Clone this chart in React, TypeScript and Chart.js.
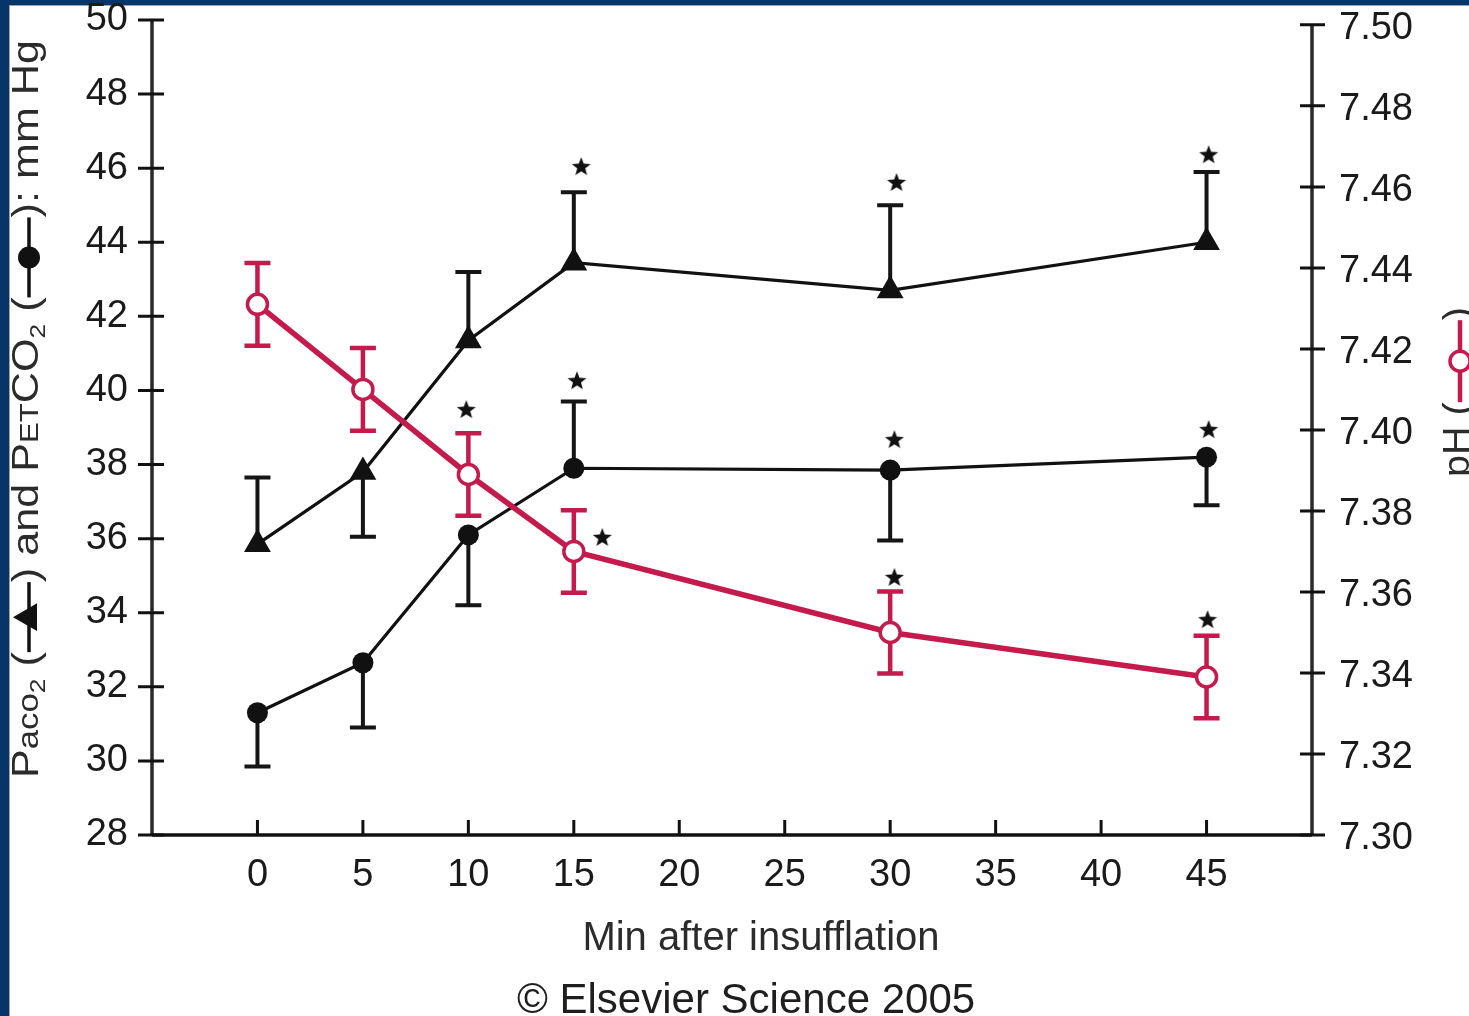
import React, { useEffect, useRef } from "react";
import { Chart, registerables } from "chart.js";

Chart.register(...registerables);

const FONT = "'Liberation Sans', Arial, Helvetica, sans-serif";
const RED = "#c41a4c";
const NAVY = "#06356a";
const INK = "#111111";
const TEXT = "#2b2b2b";

// ---- data ----
const minutes = [0, 5, 10, 15, 30, 45];
const paco2 = [35.85, 37.8, 41.35, 43.45, 42.7, 44.0];
const paco2ErrEnd = [37.65, 36.05, 43.2, 45.35, 45.0, 45.9];
const petco2 = [31.3, 32.65, 36.1, 37.9, 37.85, 38.2];
const petco2ErrEnd = [29.85, 30.9, 34.2, 39.7, 35.95, 36.9];
const ph = [7.431, 7.41, 7.389, 7.37, 7.35, 7.339];
const phSd = [0.0102, 0.0102, 0.0102, 0.0102, 0.0101, 0.0102];
const asteriskMin = [9.9, 15.15, 15.35, 16.35, 30.2, 30.2, 30.3, 45.1, 45.1, 45.05];
const asteriskLevel = [39.47, 40.25, 46.03, 36.02, 34.94, 38.66, 45.6, 46.35, 38.93, 33.8];
const xTickValues = [0, 5, 10, 15, 20, 25, 30, 35, 40, 45];
const leftTickValues = [28, 30, 32, 34, 36, 38, 40, 42, 44, 46, 48, 50];
const rightTickValues = [7.3, 7.32, 7.34, 7.36, 7.38, 7.4, 7.42, 7.44, 7.46, 7.48, 7.5];
const xTitle = "Min after insufflation";
const credit = "\u00a9 Elsevier Science 2005";

function makeAsterisk(): HTMLCanvasElement {
  const c = document.createElement("canvas");
  c.width = 24;
  c.height = 24;
  const g = c.getContext("2d")!;
  g.beginPath();
  for (let i = 0; i < 10; i++) {
    const r = i % 2 === 0 ? 10 : 4.2;
    const a = -Math.PI / 2 + (i * Math.PI) / 5;
    g.lineTo(12 + r * Math.cos(a), 12 + r * Math.sin(a));
  }
  g.closePath();
  g.fillStyle = INK;
  g.fill();
  return c;
}

type Seg = { t?: string; s?: number; dy?: number; sym?: "tri" | "dot" | "ring"; len?: number };

function drawSymbol(ctx: CanvasRenderingContext2D, kind: string, x0: number, len: number, y: number) {
  const color = kind === "ring" ? RED : INK;
  ctx.save();
  ctx.strokeStyle = color;
  ctx.lineWidth = kind === "ring" ? 4.5 : 3.5;
  ctx.beginPath();
  ctx.moveTo(x0, y);
  ctx.lineTo(x0 + len, y);
  ctx.stroke();
  const cx = x0 + len / 2;
  if (kind === "tri") {
    const r = 16;
    ctx.fillStyle = INK;
    ctx.beginPath();
    ctx.moveTo(cx, y - r);
    ctx.lineTo(cx + r * 0.866, y + r / 2);
    ctx.lineTo(cx - r * 0.866, y + r / 2);
    ctx.closePath();
    ctx.fill();
  } else if (kind === "dot") {
    ctx.fillStyle = INK;
    ctx.beginPath();
    ctx.arc(cx, y, 11, 0, Math.PI * 2);
    ctx.fill();
  } else {
    ctx.fillStyle = "#ffffff";
    ctx.lineWidth = 3.5;
    ctx.beginPath();
    ctx.arc(cx, y, 10, 0, Math.PI * 2);
    ctx.fill();
    ctx.stroke();
  }
  ctx.restore();
}

function drawRotatedRun(
  ctx: CanvasRenderingContext2D,
  segs: Seg[],
  baseX: number,
  centerY: number,
  target: number | null,
  kFixed: number
) {
  let textNat = 0;
  let symTotal = 0;
  const nat = segs.map((sg) => {
    if (sg.sym) {
      symTotal += sg.len || 0;
      return sg.len || 0;
    }
    ctx.font = `${sg.s}px ${FONT}`;
    const w = ctx.measureText(sg.t || "").width;
    textNat += w;
    return w;
  });
  const k = target ? (target - symTotal) / textNat : kFixed;
  const widths = segs.map((sg, i) => (sg.sym ? nat[i] : nat[i] * k));
  const total = widths.reduce((a, b) => a + b, 0);
  ctx.save();
  ctx.translate(baseX, centerY);
  ctx.rotate(-Math.PI / 2);
  ctx.fillStyle = TEXT;
  ctx.textBaseline = "alphabetic";
  ctx.textAlign = "left";
  let x = -total / 2;
  segs.forEach((sg, i) => {
    if (sg.sym) {
      drawSymbol(ctx, sg.sym, x, sg.len || 0, -9);
    } else {
      ctx.save();
      ctx.translate(x, sg.dy || 0);
      ctx.scale(k, 1);
      ctx.font = `${sg.s}px ${FONT}`;
      ctx.fillText(sg.t || "", 0, 0);
      ctx.restore();
    }
    x += widths[i];
  });
  ctx.restore();
}

const framePlugin = {
  id: "frame",
  beforeDraw(chart: any) {
    const { ctx, width, height } = chart;
    ctx.save();
    ctx.fillStyle = "#ffffff";
    ctx.fillRect(0, 0, width, height);
    ctx.fillStyle = NAVY;
    ctx.fillRect(0, 0, width, 5);
    ctx.fillRect(0, 0, 9, height);
    ctx.fillStyle = "#9aa3ad";
    ctx.fillRect(9, 5, 1, height - 5);
    ctx.fillRect(9, 5, width - 9, 1);
    ctx.restore();
  },
};

const axesPlugin = {
  id: "axisLines",
  beforeDatasetsDraw(chart: any) {
    const { ctx, chartArea } = chart;
    const x = chart.scales.x;
    const yL = chart.scales.yL;
    const yR = chart.scales.yR;
    const bottom = yL.getPixelForValue(leftTickValues[0]);
    ctx.save();
    ctx.strokeStyle = "#2a2a2a";
    ctx.lineWidth = 3.5;
    ctx.beginPath();
    ctx.moveTo(chartArea.left, yL.getPixelForValue(leftTickValues[leftTickValues.length - 1]));
    ctx.lineTo(chartArea.left, bottom);
    ctx.moveTo(chartArea.right, yR.getPixelForValue(rightTickValues[rightTickValues.length - 1]));
    ctx.lineTo(chartArea.right, yR.getPixelForValue(rightTickValues[0]));
    ctx.stroke();
    ctx.strokeStyle = INK;
    ctx.lineWidth = 3.5;
    ctx.beginPath();
    ctx.moveTo(chartArea.left, bottom);
    ctx.lineTo(chartArea.right, bottom);
    ctx.stroke();
    ctx.lineWidth = 3;
    ctx.beginPath();
    xTickValues.forEach((v) => {
      const px = x.getPixelForValue(v);
      ctx.moveTo(px, bottom);
      ctx.lineTo(px, bottom - 15);
    });
    leftTickValues.forEach((v) => {
      const py = yL.getPixelForValue(v);
      ctx.moveTo(chartArea.left - 14, py);
      ctx.lineTo(chartArea.left + 12, py);
    });
    rightTickValues.forEach((v) => {
      const py = yR.getPixelForValue(v);
      ctx.moveTo(chartArea.right - 12, py);
      ctx.lineTo(chartArea.right + 13, py);
    });
    ctx.stroke();
    ctx.restore();
  },
};

const errorBarPlugin = {
  id: "errorBars",
  beforeDatasetsDraw(chart: any) {
    const { ctx } = chart;
    const x = chart.scales.x;
    const yL = chart.scales.yL;
    const yR = chart.scales.yR;
    const bar = (px: number, y0: number, y1: number, color: string, lw: number, capBoth: boolean) => {
      ctx.strokeStyle = color;
      ctx.lineWidth = lw;
      ctx.beginPath();
      ctx.moveTo(px, y0);
      ctx.lineTo(px, y1);
      ctx.moveTo(px - 13, y1);
      ctx.lineTo(px + 13, y1);
      if (capBoth) {
        ctx.moveTo(px - 13, y0);
        ctx.lineTo(px + 13, y0);
      }
      ctx.stroke();
    };
    ctx.save();
    minutes.forEach((m, i) => {
      const px = x.getPixelForValue(m);
      bar(px, yL.getPixelForValue(paco2[i]), yL.getPixelForValue(paco2ErrEnd[i]), "#151515", 4, false);
      bar(px, yL.getPixelForValue(petco2[i]), yL.getPixelForValue(petco2ErrEnd[i]), "#151515", 4, false);
      bar(px, yR.getPixelForValue(ph[i] - phSd[i]), yR.getPixelForValue(ph[i] + phSd[i]), RED, 4.5, true);
    });
    ctx.restore();
  },
};

const titlePlugin = {
  id: "titles",
  afterDraw(chart: any) {
    const { ctx } = chart;
    const leftSegs: Seg[] = [
      { t: "P", s: 36 },
      { t: "aco", s: 29 },
      { t: "2", s: 22, dy: 7 },
      { t: " (", s: 36 },
      { sym: "tri", len: 70 },
      { t: ") and P", s: 36 },
      { t: "ET", s: 26 },
      { t: "CO", s: 36 },
      { t: "2", s: 22, dy: 7 },
      { t: " (", s: 36 },
      { sym: "dot", len: 80 },
      { t: "): mm Hg", s: 36 },
    ];
    drawRotatedRun(ctx, leftSegs, 38, 409, 738, 1);
    const rightSegs: Seg[] = [
      { t: "pH (", s: 36 },
      { sym: "ring", len: 82 },
      { t: ")", s: 36 },
    ];
    drawRotatedRun(ctx, rightSegs, 1469, 392, null, 1.1);

    ctx.save();
    ctx.fillStyle = TEXT;
    ctx.textAlign = "center";
    ctx.textBaseline = "alphabetic";
    ctx.font = `40px ${FONT}`;
    ctx.fillText(xTitle, 761, 950);
    ctx.fillStyle = "#1e1e1e";
    ctx.font = `42px ${FONT}`;
    ctx.fillText(credit, 746, 1013);
    ctx.restore();
  },
};

const zeroPad = (s: any) => {
  s.paddingTop = 0;
  s.paddingBottom = 0;
  s.paddingLeft = 0;
  s.paddingRight = 0;
};

export default function App() {
  const ref = useRef<HTMLCanvasElement>(null);
  useEffect(() => {
    const canvas = ref.current;
    if (!canvas) return;
    const star = makeAsterisk();
    const tickFont = { family: FONT, size: 38 };
    const chart = new Chart(canvas, {
      type: "line",
      data: {
        datasets: [
          {
            label: "pH",
            data: minutes.map((m, i) => ({ x: m, y: ph[i] })),
            yAxisID: "yR",
            borderColor: RED,
            borderWidth: 5.5,
            tension: 0,
            pointStyle: "circle",
            pointRadius: 10,
            pointBorderWidth: 3.5,
            pointBackgroundColor: "#ffffff",
            pointBorderColor: RED,
          },
          {
            label: "significance",
            type: "scatter",
            data: asteriskMin.map((m, i) => ({ x: m, y: asteriskLevel[i] })),
            yAxisID: "yL",
            showLine: false,
            pointStyle: star as any,
            pointRadius: 10,
          },
          {
            label: "PaCO2",
            data: minutes.map((m, i) => ({ x: m, y: paco2[i] })),
            yAxisID: "yL",
            borderColor: INK,
            borderWidth: 3.2,
            tension: 0,
            pointStyle: "triangle",
            pointRadius: 15.5,
            pointBorderWidth: 0,
            pointBackgroundColor: INK,
            pointBorderColor: INK,
          },
          {
            label: "PETCO2",
            data: minutes.map((m, i) => ({ x: m, y: petco2[i] })),
            yAxisID: "yL",
            borderColor: INK,
            borderWidth: 3.2,
            tension: 0,
            pointStyle: "circle",
            pointRadius: 10.5,
            pointBorderWidth: 0,
            pointBackgroundColor: INK,
            pointBorderColor: INK,
          },
        ],
      },
      options: {
        responsive: false,
        animation: false,
        events: [],
        layout: { padding: { top: 20, left: 0, right: 0, bottom: 0 } },
        plugins: { legend: { display: false }, tooltip: { enabled: false } },
        scales: {
          x: {
            type: "linear",
            position: "bottom",
            min: -5,
            max: 50,
            afterBuildTicks: (s: any) => {
              s.ticks = xTickValues.map((v) => ({ value: v }));
            },
            afterFit: (s: any) => {
              s.height = 181;
              zeroPad(s);
            },
            grid: { display: false, drawTicks: false, tickLength: 0 },
            border: { display: false },
            ticks: { font: tickFont, color: "#1a1a1a", padding: 18, maxRotation: 0, autoSkip: false },
          },
          yL: {
            type: "linear",
            position: "left",
            min: 28,
            max: 50,
            afterBuildTicks: (s: any) => {
              s.ticks = leftTickValues.map((v) => ({ value: v }));
            },
            afterFit: (s: any) => {
              s.width = 152;
              zeroPad(s);
            },
            grid: { display: false, drawTicks: false, tickLength: 0 },
            border: { display: false },
            ticks: { font: tickFont, color: "#1a1a1a", padding: 24, autoSkip: false },
          },
          yR: {
            type: "linear",
            position: "right",
            min: 7.3,
            max: 7.5012,
            afterBuildTicks: (s: any) => {
              s.ticks = rightTickValues.map((v) => ({ value: v }));
            },
            afterFit: (s: any) => {
              s.width = 157;
              zeroPad(s);
            },
            grid: { display: false, drawTicks: false, tickLength: 0 },
            border: { display: false },
            ticks: {
              font: tickFont,
              color: "#1a1a1a",
              padding: 27,
              autoSkip: false,
              labelOffset: 4,
              callback: (v: any) => Number(v).toFixed(2),
            },
          },
        },
      },
      plugins: [framePlugin, axesPlugin, errorBarPlugin, titlePlugin],
    } as any);
    return () => chart.destroy();
  }, []);
  return (
    <div
      style={{
        position: "absolute",
        left: 0,
        top: 0,
        width: 1469,
        height: 1016,
        overflow: "hidden",
        background: "#ffffff",
      }}
    >
      <canvas ref={ref} width={1469} height={1016} style={{ display: "block", width: 1469, height: 1016 }} />
    </div>
  );
}
